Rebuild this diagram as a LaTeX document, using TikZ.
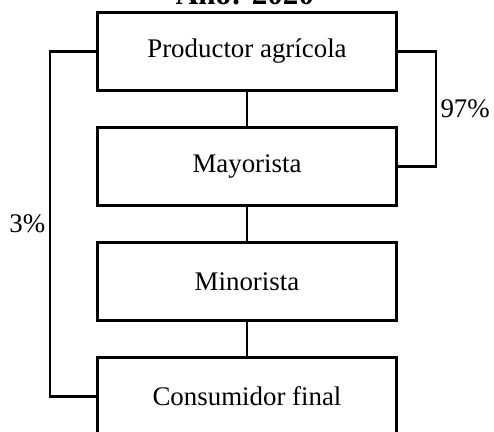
\documentclass[tikz,border=0pt]{standalone}
\usepackage{fontspec}
\setmainfont{Liberation Serif}
\usetikzlibrary{positioning}
\tikzset{etapa/.style={draw, line width=1.7pt, minimum width=5.98cm, minimum height=1.55cm, inner sep=0pt, outer sep=0pt, font=\fontsize{15.3}{18}\selectfont}}
\tikzset{porcentaje/.style={font=\fontsize{15.3}{18}\selectfont, inner sep=2pt}}

\begin{document}
\begin{tikzpicture}[x=0.02cm,y=-0.02cm,node distance=0.75cm]
\useasboundingbox (0,0) rectangle (494,432);
\node[font=\fontsize{17.7}{20}\selectfont\bfseries, anchor=base] (titulo) at (245,5) {Año: 2020};
\node[etapa] (prod) at (247,51.5) {Productor agrícola};
\node[etapa, below=of prod] (may) {Mayorista};
\node[etapa, below=of may] (min) {Minorista};
\node[etapa, below=of min] (cons) {Consumidor final};
\draw[line width=0.85pt] (prod) -- (may);
\draw[line width=0.85pt] (may) -- (min);
\draw[line width=0.85pt] (min) -- (cons);
%\draw (prod.south) -- (cons.north);
\draw[line width=1.4pt] (prod.west) -- ++(-47.5,0) |- node[porcentaje,pos=0.25,left] {3\%} (cons.west);
\draw[line width=1.4pt] (prod.east) -- ++(39.3,0) |- node[porcentaje,pos=0.25,right] {97\%} (may.east);
\end{tikzpicture}
\end{document}
